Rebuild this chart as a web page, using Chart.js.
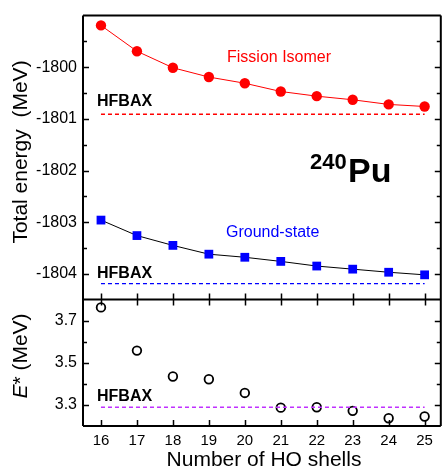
<!DOCTYPE html>
<html>
<head>
<meta charset="utf-8">
<script src="https://cdn.jsdelivr.net/npm/chart.js@4.4.1/dist/chart.umd.min.js"></script>
<style>
html, body { margin: 0; padding: 0; background: #fff; overflow: hidden; width: 443px; height: 472px; }
canvas { display: block; }
</style>
</head>
<body>
<canvas id="shellChart" width="447" height="472"></canvas>
<script>
// number of harmonic oscillator shells
const shells = [16, 17, 18, 19, 20, 21, 22, 23, 24, 25];

// total energies (MeV)
const fissionIsomer = [-1799.19, -1799.69, -1800.01, -1800.19, -1800.31, -1800.47, -1800.56, -1800.63, -1800.72, -1800.76];
const groundState = [-1802.96, -1803.26, -1803.45, -1803.62, -1803.68, -1803.76, -1803.85, -1803.91, -1803.97, -1804.02];

// excitation energy of the isomer (MeV)
const excitation = [3.763, 3.558, 3.435, 3.422, 3.357, 3.287, 3.289, 3.272, 3.237, 3.245];

// HFBAX reference values, drawn between the first and last shell
const hfbaxRange = [16, 25];
const hfbaxFission = -1800.91;
const hfbaxGround = -1804.19;
const hfbaxExcitation = 3.289;

// ticks
const xTicks = [16, 17, 18, 19, 20, 21, 22, 23, 24, 25];
const yTopTicks = [-1804, -1803, -1802, -1801, -1800];
const yTopMinor = [-1803.5, -1802.5, -1801.5, -1800.5, -1799.5];
const yBotTicks = [3.3, 3.5, 3.7];
const yBotMinor = [3.4, 3.6];

const FONT = "'Liberation Sans', Arial, Helvetica, sans-serif";
Chart.defaults.font.family = FONT;
Chart.defaults.color = '#000';

const pts = (ys) => shells.map((x, i) => ({ x: x, y: ys[i] }));
const hline = (v) => hfbaxRange.map(x => ({ x: x, y: v }));

// frame, inward tick marks and text
const framePlugin = {
  id: 'frame',
  afterDraw(chart) {
    const c = chart.ctx;
    const a = chart.chartArea;
    const x = chart.scales.x, yT = chart.scales.yTop, yB = chart.scales.yBot;
    const mid = yT.bottom;
    c.save();
    c.strokeStyle = '#000';
    c.lineWidth = 2;
    c.beginPath();
    c.moveTo(a.left, a.top); c.lineTo(a.right, a.top);
    c.moveTo(a.right, a.top); c.lineTo(a.right, a.bottom);
    c.moveTo(a.left, a.bottom); c.lineTo(a.right, a.bottom);
    c.moveTo(a.left, a.top); c.lineTo(a.left, a.bottom);
    c.moveTo(a.left, mid); c.lineTo(a.right, mid);
    c.stroke();

    c.lineWidth = 1.5;
    c.beginPath();
    xTicks.forEach(v => {
      const px = Math.round(x.getPixelForValue(v)) + 0.5;
      c.moveTo(px, a.bottom); c.lineTo(px, a.bottom - 6);
      c.moveTo(px, mid - 6); c.lineTo(px, mid + 6);
    });
    const yTicks = (scale, list, len) => list.forEach(v => {
      const py = Math.round(scale.getPixelForValue(v)) + 0.5;
      c.moveTo(a.left, py); c.lineTo(a.left + len, py);
      c.moveTo(a.right, py); c.lineTo(a.right - len, py);
    });
    yTicks(yT, yTopTicks, 6);
    yTicks(yT, yTopMinor, 4);
    yTicks(yB, yBotTicks, 6);
    yTicks(yB, yBotMinor, 4);
    c.stroke();

    // annotations
    c.textBaseline = 'alphabetic';
    c.textAlign = 'left';
    c.font = 'bold 16px ' + FONT;
    c.fillStyle = '#000';
    c.fillText('HFBAX', 97, 106);
    c.fillText('HFBAX', 97, 278);
    c.fillText('HFBAX', 97, 401);

    c.font = '16px ' + FONT;
    c.fillStyle = '#ff0000';
    c.fillText('Fission Isomer', 227, 62);
    c.fillStyle = '#0000ff';
    c.fillText('Ground-state', 226, 237);

    c.fillStyle = '#000';
    c.font = 'bold 22px ' + FONT;
    c.fillText('240', 310, 169);
    c.font = 'bold 34px ' + FONT;
    c.fillText('Pu', 348, 182);

    // axis titles
    c.font = '21px ' + FONT;
    c.textAlign = 'center';
    c.fillText('Number of HO shells', 264, 466);

    c.save();
    c.translate(27, 152);
    c.rotate(-Math.PI / 2);
    c.fillText('Total energy  (MeV)', 0, 0);
    c.restore();

    c.save();
    c.translate(27, 356);
    c.rotate(-Math.PI / 2);
    c.textAlign = 'left';
    const parts = [['italic 21px ' + FONT, 'E'], ['21px ' + FONT, '* (MeV)']];
    let w = 0;
    parts.forEach(p => { c.font = p[0]; w += c.measureText(p[1]).width; });
    let cx = -w / 2;
    parts.forEach(p => { c.font = p[0]; c.fillText(p[1], cx, 0); cx += c.measureText(p[1]).width; });
    c.restore();

    c.restore();
  }
};

const hideScale = {
  grid: { display: false, drawTicks: false },
  border: { display: false }
};

new Chart(document.getElementById('shellChart'), {
  type: 'scatter',
  data: {
    datasets: [
      {
        label: 'HFBAX fission isomer',
        data: hline(hfbaxFission),
        yAxisID: 'yTop',
        showLine: true,
        borderColor: '#ff0000',
        borderWidth: 1.3,
        borderDash: [4, 3],
        pointRadius: 0
      },
      {
        label: 'HFBAX ground state',
        data: hline(hfbaxGround),
        yAxisID: 'yTop',
        showLine: true,
        borderColor: '#0000ff',
        borderWidth: 1.3,
        borderDash: [4, 3],
        pointRadius: 0
      },
      {
        label: 'HFBAX E*',
        data: hline(hfbaxExcitation),
        yAxisID: 'yBot',
        showLine: true,
        borderColor: '#c030ff',
        borderWidth: 1.3,
        borderDash: [4, 3],
        pointRadius: 0
      },
      {
        label: 'Fission Isomer',
        data: pts(fissionIsomer),
        yAxisID: 'yTop',
        showLine: true,
        borderColor: '#ff0000',
        borderWidth: 1,
        backgroundColor: '#ff0000',
        pointRadius: 5.2,
        pointBorderWidth: 0
      },
      {
        label: 'Ground-state',
        data: pts(groundState),
        yAxisID: 'yTop',
        showLine: true,
        borderColor: '#000',
        borderWidth: 1,
        pointStyle: 'rect',
        pointRadius: 6.2,
        pointBackgroundColor: '#0000ff',
        pointBorderColor: '#0000ff',
        pointBorderWidth: 0
      },
      {
        label: 'E*',
        data: pts(excitation),
        yAxisID: 'yBot',
        showLine: false,
        pointRadius: 4.3,
        pointBackgroundColor: 'rgba(255,255,255,0)',
        pointBorderColor: '#000',
        pointBorderWidth: 1.8
      }
    ]
  },
  options: {
    responsive: false,
    animation: false,
    devicePixelRatio: 1,
    clip: false,
    layout: { padding: { left: 0, top: 12, right: 2, bottom: 0 } },
    plugins: { legend: { display: false }, tooltip: { enabled: false } },
    scales: {
      x: {
        type: 'linear',
        min: 15.5,
        max: 25.45,
        ...hideScale,
        afterBuildTicks: (s) => { s.ticks = xTicks.map(v => ({ value: v })); },
        afterFit: (s) => { s.height = 46; },
        ticks: { padding: 6, font: { size: 15 }, callback: (v) => String(v), maxRotation: 0 }
      },
      // the stack is laid out bottom-up, so the lower panel comes first
      yBot: {
        type: 'linear',
        position: 'left',
        stack: 'panels',
        stackWeight: 127.4,
        min: 3.2,
        max: 3.8,
        ...hideScale,
        afterBuildTicks: (s) => { s.ticks = yBotTicks.map(v => ({ value: v })); },
        afterFit: (s) => { s.width = 83; },
        ticks: { padding: 6, font: { size: 16 }, callback: (v) => Number(v).toFixed(1) }
      },
      yTop: {
        type: 'linear',
        position: 'left',
        stack: 'panels',
        stackWeight: 286.3,
        min: -1804.5,
        max: -1799,
        ...hideScale,
        afterBuildTicks: (s) => { s.ticks = yTopTicks.map(v => ({ value: v })); },
        afterFit: (s) => { s.width = 83; },
        ticks: { padding: 6, font: { size: 16 }, callback: (v) => String(v) }
      }
    }
  },
  plugins: [framePlugin]
});
</script>
</body>
</html>
